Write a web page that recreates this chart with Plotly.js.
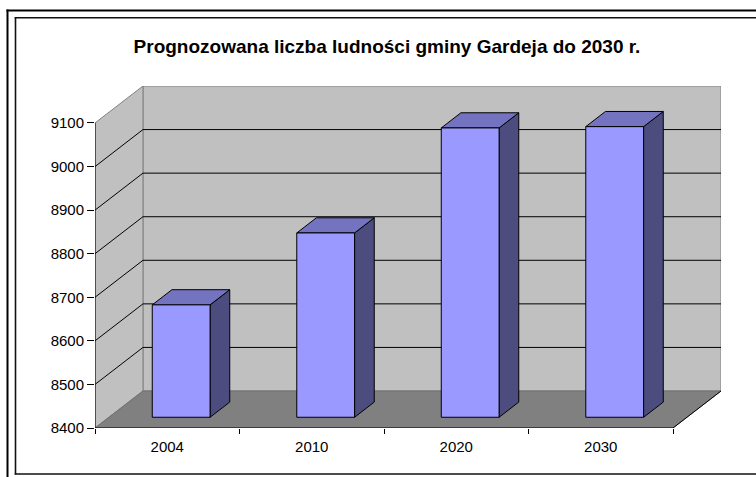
<!DOCTYPE html>
<html>
<head>
<meta charset="utf-8">
<script src="https://cdn.plot.ly/plotly-3.0.1.min.js"></script>
<style>html,body{margin:0;padding:0;background:#fff;}#chart{width:756px;height:477px;}</style>
</head>
<body>
<div id="chart"></div>
<script>
// ---- data ----
var categories = ["2004", "2010", "2020", "2030"];
var population = [8658, 8823, 9064, 9067];
var yTickValues = [8400, 8500, 8600, 8700, 8800, 8900, 9000, 9100];
var yTickLabels = ["8400", "8500", "8600", "8700", "8800", "8900", "9000", "9100"];

// ---- 3D geometry (in axis units) ----
var yMin = 8400, yMax = 9100;
var nCat = categories.length;
var DX = 0.332;   // depth shift in category units
var DY = 84.9;    // depth shift in value units
var halfW = 0.2;  // half bar width
var fD = 0.29, bD = 0.70; // bar front / back depth fractions

var traces = [];
function poly(xs, ys, fill, line, lw) {
  traces.push({type: 'scatter', mode: 'lines', x: xs, y: ys, fill: 'toself',
    fillcolor: fill, line: {color: line, width: lw}, hoverinfo: 'skip', showlegend: false});
}
function lines(xs, ys, color, lw) {
  traces.push({type: 'scatter', mode: 'lines', x: xs, y: ys, connectgaps: false,
    line: {color: color, width: lw}, hoverinfo: 'skip', showlegend: false});
}
// back wall
poly([DX, nCat + DX, nCat + DX, DX, DX], [yMin + DY, yMin + DY, yMax + DY, yMax + DY, yMin + DY], '#c0c0c0', '#808080', 1);
// left wall
poly([0, 0, DX, DX, 0], [yMin, yMax, yMax + DY, yMin + DY, yMin], '#c0c0c0', '#808080', 1);
// floor
poly([0, nCat, nCat + DX, DX, 0], [yMin, yMin, yMin + DY, yMin + DY, yMin], '#808080', '#707070', 1);
// gridlines
var gx = [], gy = [];
yTickValues.forEach(function (v) {
  if (v > yMin && v < yMax) {
    gx.push(0, DX, nCat + DX, null);
    gy.push(v, v + DY, v + DY, null);
  }
});
lines(gx, gy, '#000000', 1);
// axis lines (front floor edge, right floor edge, left value axis)
lines([0, nCat, nCat + DX], [yMin, yMin, yMin + DY], '#000000', 1);
lines([0, 0], [yMin, yMax], '#000000', 1);
// bars
population.forEach(function (v, i) {
  var c = i + 0.5;
  var xlF = c - halfW + fD * DX, xrF = c + halfW + fD * DX;
  var xlB = c - halfW + bD * DX, xrB = c + halfW + bD * DX;
  var baseF = yMin + fD * DY, baseB = yMin + bD * DY;
  var topF = v + fD * DY, topB = v + bD * DY;
  poly([xrF, xrF, xrB, xrB, xrF], [baseF, topF, topB, baseB, baseF], '#4c4c7f', '#000000', 1);
  poly([xlF, xrF, xrB, xlB, xlF], [topF, topF, topB, topB, topF], '#7373bf', '#000000', 1);
  poly([xlF, xrF, xrF, xlF, xlF], [baseF, baseF, topF, topF, baseF], '#9999ff', '#000000', 1);
});

// ---- frame lines (pixel -> paper) ----
var W = 756, H = 477, mL = 95, mR = 35, mT = 86, mB = 49;
var pw = W - mL - mR, ph = H - mT - mB;
function px(x) { return (x - mL) / pw; }
function py(y) { return (H - mB - y) / ph; }
var shapes = [
  {type: 'line', xref: 'paper', yref: 'paper', x0: px(7.5), x1: px(7.5), y0: py(9.5), y1: py(480), line: {color: '#000', width: 2}},
  {type: 'line', xref: 'paper', yref: 'paper', x0: px(6.5), x1: px(760), y0: py(10.5), y1: py(10.5), line: {color: '#000', width: 2}},
  {type: 'line', xref: 'paper', yref: 'paper', x0: px(15.5), x1: px(15.5), y0: py(17), y1: py(474.5), line: {color: '#111', width: 1.6}},
  {type: 'line', xref: 'paper', yref: 'paper', x0: px(14.7), x1: px(760), y0: py(17.7), y1: py(17.7), line: {color: '#111', width: 1.6}},
  {type: 'line', xref: 'paper', yref: 'paper', x0: px(14.7), x1: px(760), y0: py(474), y1: py(474), line: {color: '#111', width: 1.6}}
];

var layout = {
  width: W, height: H,
  margin: {l: mL, r: mR, t: mT, b: mB, pad: 0},
  paper_bgcolor: '#ffffff', plot_bgcolor: 'rgba(0,0,0,0)',
  showlegend: false,
  title: {text: '<b>Prognozowana liczba ludności gminy Gardeja do 2030 r.</b>',
    font: {family: 'Liberation Sans, Arial, sans-serif', size: 19, color: '#000'},
    x: 387 / W, xanchor: 'center', xref: 'container', y: 1 - 46 / H, yanchor: 'middle', yref: 'container'},
  xaxis: {range: [0, nCat + DX], showgrid: false, zeroline: false, showline: false,
    tickmode: 'array', tickvals: categories.map(function (c, i) { return i + 0.5; }), ticktext: categories,
    ticks: '', ticklen: 0, ticklabelstandoff: 8,
    minor: {tickmode: 'array', tickvals: categories.map(function (c, i) { return i; }).concat([nCat]), ticks: 'outside', ticklen: 5, tickcolor: '#000', tickwidth: 1, showgrid: false},
    tickfont: {family: 'Liberation Sans, Arial, sans-serif', size: 15, color: '#000'},
    fixedrange: true},
  yaxis: {range: [yMin, yMax + DY], showgrid: false, zeroline: false, showline: false,
    tickmode: 'array', tickvals: yTickValues, ticktext: yTickLabels,
    ticks: 'outside', ticklen: 7, tickcolor: '#000', tickwidth: 1,
    tickfont: {family: 'Liberation Sans, Arial, sans-serif', size: 15, color: '#000'},
    fixedrange: true},
  shapes: shapes
};
Plotly.newPlot('chart', traces, layout, {staticPlot: true, displayModeBar: false});
</script>
</body>
</html>
